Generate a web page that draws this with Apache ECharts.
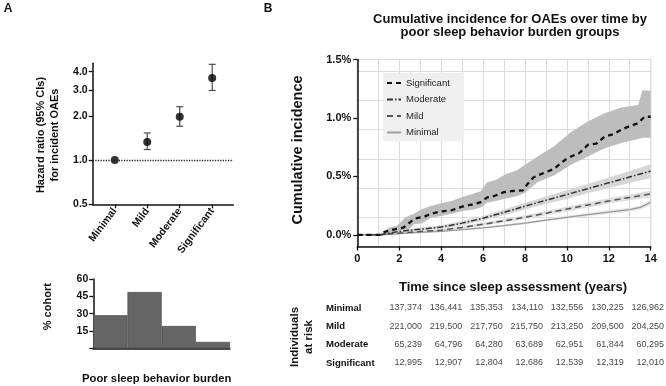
<!DOCTYPE html>
<html><head><meta charset="utf-8">
<script src="https://cdn.jsdelivr.net/npm/echarts@6/dist/echarts.min.js"></script>
<style>html,body{margin:0;padding:0;background:#fff}#c{width:666px;height:386px}</style>
</head><body><div id="c"></div>
<script>
// ---------- Panel A data ----------
const groups = ['Minimal', 'Mild', 'Moderate', 'Significant'];
const hrPoint = [1.0, 1.33, 1.97, 3.63];
const hrLower = [null, 1.18, 1.70, 2.98];
const hrUpper = [null, 1.53, 2.31, 4.49];
const hrTicks = [0.5, 1.0, 2.0, 3.0, 4.0];
const cohortPct = [28.6, 48.7, 19.3, 5.5];
const cohortTicks = [15, 30, 45, 60];

// ---------- Panel B data (cumulative incidence, %) ----------
const sigT = [0, 1.1, 1.3, 1.6, 2.2, 2.5, 2.75, 3.2, 3.5, 4.0, 4.5, 5.1, 5.5, 5.9, 6.2, 6.5, 7.0, 7.4, 7.9, 8.1, 8.4, 8.7, 9.4, 9.9, 10.2, 10.6, 11.0, 11.4, 11.8, 12.2, 12.6, 13.0, 13.4, 13.7, 14];
const sigV = [0, 0, 0.025, 0.04, 0.062, 0.105, 0.14, 0.155, 0.18, 0.2, 0.21, 0.247, 0.26, 0.28, 0.32, 0.33, 0.365, 0.375, 0.38, 0.43, 0.49, 0.515, 0.565, 0.64, 0.67, 0.70, 0.77, 0.78, 0.84, 0.86, 0.90, 0.93, 0.955, 1.01, 1.01];
const sigBandT = [1.1, 1.5, 1.9, 2.3, 2.7, 3.1, 3.5, 4.0, 4.5, 5.1, 5.5, 5.9, 6.2, 6.6, 7.1, 7.6, 8.0, 8.6, 9.4, 10.2, 11.0, 11.8, 12.6, 13.4, 13.6, 14];
const sigUpper = [0, 0.06, 0.08, 0.15, 0.18, 0.22, 0.247, 0.27, 0.29, 0.33, 0.35, 0.375, 0.45, 0.47, 0.52, 0.55, 0.60, 0.67, 0.76, 0.88, 0.97, 1.04, 1.09, 1.11, 1.235, 1.235];
const sigLower = [0, 0, 0.0, 0.02, 0.09, 0.1, 0.147, 0.16, 0.18, 0.205, 0.215, 0.233, 0.275, 0.29, 0.31, 0.33, 0.36, 0.45, 0.51, 0.60, 0.67, 0.74, 0.785, 0.82, 0.83, 0.83];

const modT = [0, 1.1, 2, 3, 4, 5, 6, 7, 8, 9, 10, 11, 12, 13, 14];
const modV = [0, 0, 0.03, 0.048, 0.066, 0.1, 0.142, 0.192, 0.245, 0.295, 0.345, 0.395, 0.445, 0.495, 0.545];
const modUpper = [0, 0, 0.04, 0.06, 0.081, 0.118, 0.162, 0.216, 0.273, 0.327, 0.381, 0.435, 0.49, 0.545, 0.603];
const modLower = [0, 0, 0.02, 0.036, 0.051, 0.082, 0.122, 0.168, 0.217, 0.263, 0.309, 0.355, 0.40, 0.445, 0.487];

const mildT = [0, 1.1, 2, 3, 4, 5, 6, 7, 8, 9, 10, 11, 12, 13, 14];
const mildV = [0, 0, 0.015, 0.028, 0.04, 0.063, 0.09, 0.12, 0.15, 0.185, 0.22, 0.255, 0.29, 0.32, 0.35];
const mildUpper = [0, 0, 0.021, 0.036, 0.05, 0.075, 0.103, 0.135, 0.167, 0.203, 0.24, 0.277, 0.313, 0.345, 0.378];
const mildLower = [0, 0, 0.009, 0.02, 0.03, 0.051, 0.077, 0.105, 0.133, 0.167, 0.2, 0.233, 0.267, 0.295, 0.322];

const minT = [0, 1.1, 2, 3, 4, 5, 6, 7, 8, 9, 10, 11, 12, 13, 13.5, 13.8, 14];
const minV = [0, 0, 0.01, 0.02, 0.03, 0.045, 0.06, 0.078, 0.10, 0.125, 0.15, 0.172, 0.195, 0.215, 0.235, 0.26, 0.28];
const minUpper = [0, 0, 0.014, 0.026, 0.037, 0.053, 0.069, 0.088, 0.111, 0.137, 0.163, 0.186, 0.21, 0.232, 0.254, 0.281, 0.303];
const minLower = [0, 0, 0.006, 0.014, 0.023, 0.037, 0.051, 0.068, 0.089, 0.113, 0.137, 0.158, 0.18, 0.198, 0.216, 0.239, 0.257];

const yTicksB = [0, 0.5, 1.0, 1.5];

// ---------- Risk table ----------
const riskRows = ['Minimal', 'Mild', 'Moderate', 'Significant'];
const riskMinimal = [137374, 136441, 135353, 134110, 132556, 130225, 126962];
const riskMild = [221000, 219500, 217750, 215750, 213250, 209500, 204250];
const riskModerate = [65239, 64796, 64280, 63689, 62951, 61844, 60295];
const riskSignificant = [12995, 12907, 12804, 12686, 12539, 12319, 12010];

// ---------- helpers ----------
const FF = '"Liberation Sans", Arial, Helvetica, sans-serif';
const INK = '#111';
const fmtNum = v => String(v).replace(/\B(?=(\d{3})+(?!\d))/g, ',');
const pairs = (t, v) => t.map((x, i) => [x, v[i]]);

function band(t, lo, hi, color) {
  return {
    type: 'custom', xAxisIndex: 2, yAxisIndex: 2, silent: true, z: 1,
    data: t.map((x, i) => [x, lo[i], hi[i]]),
    encode: { x: 0, y: [1, 2] },
    renderItem: function (params, api) {
      if (params.dataIndex !== 0) return null;
      const pts = [];
      for (let i = 0; i < t.length; i++) pts.push(api.coord([t[i], hi[i]]));
      for (let i = t.length - 1; i >= 0; i--) pts.push(api.coord([t[i], lo[i]]));
      return { type: 'polygon', shape: { points: pts }, style: { fill: color } };
    }
  };
}
function curve(name, t, v, color, width, dash) {
  return {
    name: name, type: 'line', xAxisIndex: 2, yAxisIndex: 2, z: 3,
    data: pairs(t, v), symbol: 'none', showSymbol: false, silent: true,
    lineStyle: { color: color, width: width, type: dash },
    itemStyle: { color: color }
  };
}
function gtext(x, y, text, size, opts) {
  opts = opts || {};
  return {
    type: 'text', x: x, y: y, rotation: opts.rot || 0, silent: true,
    style: {
      text: text, fill: INK, fontFamily: FF, fontSize: size,
      fontWeight: opts.weight || 'bold', align: opts.align || 'center',
      verticalAlign: 'middle', lineHeight: opts.lh || size * 1.2
    }
  };
}

const riskData = [];
[riskMinimal, riskMild, riskModerate, riskSignificant].forEach((arr, r) => {
  arr.forEach((v, c) => riskData.push([c, riskRows[r], v]));
});

const axisBlack = { show: true, onZero: false, lineStyle: { color: INK, width: 1.5 } };
const tickBlack = { show: true, length: 4, lineStyle: { color: INK, width: 1.3 } };

const chart = echarts.init(document.getElementById('c'), null, { renderer: 'canvas' });
chart.setOption({
  animation: false,
  backgroundColor: '#fff',
  textStyle: { fontFamily: FF },
  grid: [
    { left: 92.7, top: 63.3, width: 140.6, height: 141 },
    { left: 93.3, top: 279, width: 136.7, height: 69.3 },
    { left: 357.3, top: 59.5, width: 293.4, height: 187, show: true, borderColor: '#a8a8a8', borderWidth: 1, backgroundColor: 'transparent' },
    { left: 422, top: 308, width: 242, height: 55 }
  ],
  xAxis: [
    { gridIndex: 0, type: 'value', min: -0.68, max: 3.65,
      axisLine: axisBlack, axisTick: Object.assign({ customValues: [0, 1, 2, 3] }, tickBlack),
      axisLabel: { customValues: [0, 1, 2, 3], formatter: v => groups[Math.round(v)], rotate: 53,
        fontSize: 10.5, fontWeight: 'bold', color: INK, margin: 5 },
      splitLine: { show: false } },
    { gridIndex: 1, type: 'category', data: groups,
      axisLine: axisBlack, axisTick: { show: false }, axisLabel: { show: false } },
    { gridIndex: 2, type: 'value', min: 0, max: 14, interval: 2,
      axisLine: axisBlack, axisTick: tickBlack,
      axisLabel: { fontSize: 11, fontWeight: 'bold', color: INK, margin: 7 },
      splitLine: { show: false } },
    { gridIndex: 2, type: 'value', min: 0, max: 14, interval: 1,
      axisLine: { show: false }, axisTick: { show: false }, axisLabel: { show: false },
      splitLine: { show: true, lineStyle: { color: '#dcdcdc', width: 1 } } },
    { gridIndex: 3, type: 'value', min: 0, max: 6, show: false }
  ],
  yAxis: [
    { gridIndex: 0, type: 'value', min: -1, max: 2.19,
      axisLine: axisBlack,
      axisTick: Object.assign({ customValues: hrTicks.map(Math.log2) }, tickBlack),
      axisLabel: { customValues: hrTicks.map(Math.log2), formatter: v => Math.pow(2, v).toFixed(1),
        fontSize: 10.5, fontWeight: 'bold', color: INK, margin: 5 },
      splitLine: { show: false } },
    { gridIndex: 1, type: 'value', min: 0, max: 60, interval: 15,
      axisLine: axisBlack, axisTick: tickBlack,
      axisLabel: { formatter: v => (v === 0 ? '' : String(v)), fontSize: 10.5, fontWeight: 'bold', color: INK, margin: 5 },
      splitLine: { show: false } },
    { gridIndex: 2, type: 'value', min: -0.1, max: 1.5,
      axisLine: axisBlack,
      axisTick: Object.assign({ customValues: yTicksB }, tickBlack),
      axisLabel: { customValues: yTicksB, formatter: v => v.toFixed(1) + '%', fontSize: 11, fontWeight: 'bold', color: INK, margin: 6 },
      splitLine: { show: false } },
    { gridIndex: 2, type: 'value', min: -0.1, max: 1.5, interval: 0.25,
      axisLine: { show: false }, axisTick: { show: false }, axisLabel: { show: false },
      splitLine: { show: true, lineStyle: { color: '#dcdcdc', width: 1 } } },
    { gridIndex: 3, type: 'category', data: riskRows, inverse: true, boundaryGap: false,
      axisLine: { show: false }, axisTick: { show: false },
      axisLabel: { align: 'left', margin: 96, fontSize: 9.5, fontWeight: 'bold', color: INK } }
  ],
  legend: {
    data: ['Significant', 'Moderate', 'Mild', 'Minimal'],
    orient: 'vertical', left: 383, top: 73,
    itemWidth: 14, itemHeight: 10, itemGap: 6.5,
    padding: [5, 14, 4, 3],
    backgroundColor: '#efefef',
    itemStyle: { color: 'transparent', borderColor: 'transparent', borderWidth: 0 },
    textStyle: { fontSize: 9.5, color: '#222', fontFamily: FF },
    selectedMode: false
  },
  series: [
    // Panel A forest
    { type: 'custom', xAxisIndex: 0, yAxisIndex: 0, silent: true, z: 2,
      data: groups.map((g, i) => [i, hrLower[i], hrUpper[i]]).filter(d => d[1] !== null)
        .map(d => [d[0], Math.log2(d[1]), Math.log2(d[2])]),
      encode: { x: 0, y: [1, 2] },
      renderItem: function (params, api) {
        const x = api.value(0);
        const lo = api.coord([x, api.value(1)]);
        const hi = api.coord([x, api.value(2)]);
        const w = 3.5;
        const st = { stroke: '#4a4a4a', lineWidth: 1.2 };
        return { type: 'group', children: [
          { type: 'line', shape: { x1: lo[0], y1: lo[1], x2: hi[0], y2: hi[1] }, style: st },
          { type: 'line', shape: { x1: lo[0] - w, y1: lo[1], x2: lo[0] + w, y2: lo[1] }, style: st },
          { type: 'line', shape: { x1: hi[0] - w, y1: hi[1], x2: hi[0] + w, y2: hi[1] }, style: st }
        ] };
      } },
    { type: 'scatter', xAxisIndex: 0, yAxisIndex: 0, z: 3, silent: true,
      data: hrPoint.map((v, i) => [i, Math.log2(v)]),
      symbolSize: 8, itemStyle: { color: '#000' },
      markLine: { silent: true, symbol: 'none', label: { show: false },
        lineStyle: { type: 'dotted', color: '#222', width: 1.3 },
        data: [{ yAxis: 0 }] } },
    // Histogram
    { type: 'bar', xAxisIndex: 1, yAxisIndex: 1, data: cohortPct, barWidth: '100%', barCategoryGap: '0%',
      itemStyle: { color: '#656565', borderColor: '#444', borderWidth: 0.6 }, silent: true },
    // Panel B bands
    band(sigBandT, sigLower, sigUpper, '#bdbdbd'),
    band(modT, modLower, modUpper, '#d6d6d6'),
    band(mildT, mildLower, mildUpper, '#dddddd'),
    band(minT, minLower, minUpper, '#e4e4e4'),
    // Panel B curves
    curve('Minimal', minT, minV, '#9c9c9c', 1.3, 'solid'),
    curve('Mild', mildT, mildV, '#555', 1.5, [6, 4]),
    curve('Moderate', modT, modV, '#333', 1.5, [6, 2, 1.5, 2]),
    curve('Significant', sigT, sigV, '#111', 2.3, [5, 4]),
    // Risk table
    { type: 'scatter', xAxisIndex: 4, yAxisIndex: 4, data: riskData, symbolSize: 0, silent: true,
      label: { show: true, position: 'inside', align: 'right', verticalAlign: 'middle',
        fontSize: 9, color: INK, fontFamily: FF, formatter: p => fmtNum(p.value[2]) } }
  ],
  graphic: [
    gtext(8, 9, 'A', 12),
    gtext(268, 9, 'B', 12),
    gtext(510, 26, 'Cumulative incidence for OAEs over time by\npoor sleep behavior burden groups', 13, { lh: 13 }),
    gtext(48, 135, 'Hazard ratio (95% CIs)\nfor incident OAEs', 11, { rot: Math.PI / 2, lh: 13.5 }),
    gtext(48, 306.7, '% cohort', 11, { rot: Math.PI / 2 }),
    gtext(156.7, 379, 'Poor sleep behavior burden', 11.3),
    gtext(298, 150, 'Cumulative incidence', 14.5, { rot: Math.PI / 2 }),
    gtext(513, 287, 'Time since sleep assessment (years)', 13),
    gtext(302, 337, 'Individuals\nat risk', 11.5, { rot: Math.PI / 2, lh: 14 })
  ]
});
</script></body></html>
